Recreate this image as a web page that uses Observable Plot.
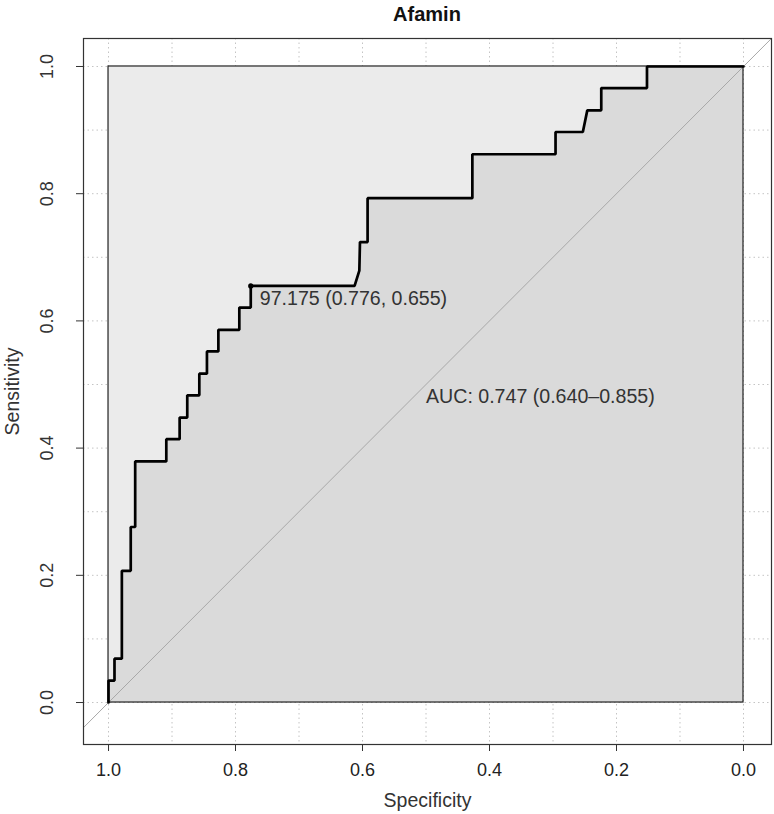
<!DOCTYPE html>
<html><head><meta charset="utf-8">
<script src="https://cdn.jsdelivr.net/npm/d3@7"></script>
<script src="https://cdn.jsdelivr.net/npm/@observablehq/plot@0.6"></script>
<style>
body{margin:0;background:#fff;font-family:"Liberation Sans",Arial,sans-serif;}
#title{position:absolute;left:83px;width:688px;top:0;height:30px;text-align:center;font-weight:bold;font-size:20px;line-height:28px;color:#111;}
#chart{position:absolute;left:0;top:30px;}
</style></head><body>
<div id="title"></div><div id="chart"></div>
<script>
const titleText = "Afamin";
const xLabel = "Specificity";
const yLabel = "Sensitivity";
const specificity = [1.0, 1.0, 0.9906, 0.9906, 0.979, 0.979, 0.965, 0.965, 0.958, 0.958, 0.909, 0.909, 0.888, 0.888, 0.876, 0.876, 0.857, 0.857, 0.845, 0.845, 0.827, 0.827, 0.794, 0.794, 0.776, 0.776, 0.6125, 0.605, 0.604, 0.592, 0.592, 0.427, 0.427, 0.296, 0.296, 0.253, 0.246, 0.224, 0.224, 0.152, 0.152, 0.0];
const sensitivity = [0, 0.0345, 0.0345, 0.069, 0.069, 0.207, 0.207, 0.276, 0.276, 0.379, 0.379, 0.414, 0.414, 0.448, 0.448, 0.483, 0.483, 0.517, 0.517, 0.552, 0.552, 0.586, 0.586, 0.621, 0.621, 0.655, 0.655, 0.679, 0.724, 0.724, 0.793, 0.793, 0.862, 0.862, 0.897, 0.897, 0.931, 0.931, 0.966, 0.966, 1.0, 1.0];
const xTicks = [1.0, 0.8, 0.6, 0.4, 0.2, 0.0];
const yTicks = [0.0, 0.2, 0.4, 0.6, 0.8, 1.0];
const gridValues = [0, 0.1, 0.2, 0.3, 0.4, 0.5, 0.6, 0.7, 0.8, 0.9, 1.0];
const thresholdValue = 97.175;
const thresholdSpec = 0.776;
const thresholdSens = 0.655;
const aucValue = 0.747;
const aucLow = 0.640;
const aucHigh = 0.855;
const diagonalSens = [-0.1, 1.1];
const unitBox = [{x1: 1, x2: 0, y1: 0, y2: 1}];

document.getElementById("title").textContent = titleText;
const curve = specificity.map((s, i) => ({sp: s, se: sensitivity[i]}));
const thr = [{sp: thresholdSpec, se: thresholdSens, t: thresholdValue}];
const aucData = [{sp: 0.5, se: 0.5}];
const font = "Liberation Sans, Arial, sans-serif";

const chart = Plot.plot({
  width: 774, height: 784,
  marginLeft: 83, marginRight: 3, marginTop: 8, marginBottom: 70,
  style: {fontFamily: font, background: "transparent", color: "#222"},
  x: {domain: [1.0394, -0.0441]},
  y: {domain: [-0.066, 1.044]},
  marks: [
    Plot.gridX(gridValues, {stroke: "#c4c4c4", strokeOpacity: 1, strokeDasharray: "1.5,3"}),
    Plot.gridY(gridValues, {stroke: "#c4c4c4", strokeOpacity: 1, strokeDasharray: "1.5,3"}),
    Plot.rect(unitBox, {x1: "x1", x2: "x2", y1: "y1", y2: "y2", fill: "#ebebeb"}),
    Plot.area(curve, {x1: "sp", y1: 0, y2: "se", fill: "#dadada"}),
    Plot.line(diagonalSens, {x: d => 1 - d, y: d => d, stroke: "#a8a8a8", strokeWidth: 1, clip: true}),
    Plot.rect(unitBox, {x1: "x1", x2: "x2", y1: "y1", y2: "y2", fill: "none", stroke: "#222", strokeWidth: 1.2}),
    Plot.line(curve, {x: "sp", y: "se", stroke: "#000", strokeWidth: 2.7, strokeLinejoin: "miter"}),
    Plot.dot(thr, {x: "sp", y: "se", r: 2.6, fill: "#000"}),
    Plot.text(thr, {x: "sp", y: "se", text: d => `${d.t.toFixed(3)} (${d.sp.toFixed(3)}, ${d.se.toFixed(3)})`, textAnchor: "start", dx: 9, dy: 13, fontSize: 19.6, fill: "#333"}),
    Plot.text(aucData, {x: "sp", y: "se", text: () => `AUC: ${aucValue.toFixed(3)} (${aucLow.toFixed(3)}\u2013${aucHigh.toFixed(3)})`, textAnchor: "start", dy: 12, fontSize: 19.6, fill: "#333"}),
    Plot.frame({stroke: "#333", strokeWidth: 1.2}),
    Plot.axisX(xTicks, {tickSize: 7, tickPadding: 12, fontSize: 18, tickFormat: d => d.toFixed(1), stroke: "#333"}),
    Plot.axisY(yTicks, {tickSize: 7, tickFormat: () => "", stroke: "#333"}),
    Plot.text(yTicks, {y: d => d, frameAnchor: "left", dx: -36, rotate: -90, text: d => d.toFixed(1), fontSize: 18, textAnchor: "middle", lineAnchor: "middle", fill: "#333"}),
    Plot.text([yLabel], {frameAnchor: "left", dx: -71, rotate: -90, text: d => d, fontSize: 19.5, textAnchor: "middle", lineAnchor: "middle", fill: "#333"}),
    Plot.text([xLabel], {frameAnchor: "bottom", dy: 56, text: d => d, fontSize: 19.5, textAnchor: "middle", lineAnchor: "middle", fill: "#333"})
  ]
});
document.getElementById("chart").appendChild(chart);
</script>
</body></html>
